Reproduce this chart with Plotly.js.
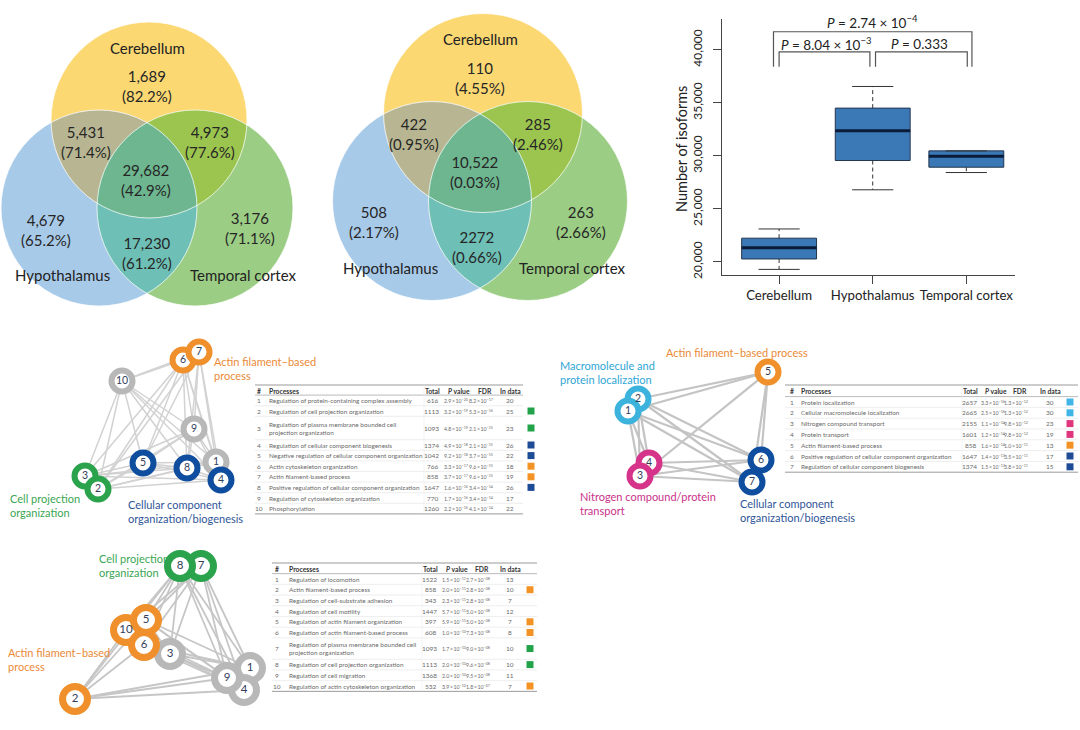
<!DOCTYPE html>
<html><head><meta charset="utf-8">
<script src="https://cdn.plot.ly/plotly-3.0.1.min.js"></script>
<style>html,body{margin:0;padding:0;background:#fff}</style>
</head><body><div id="chart" style="width:1080px;height:730px"></div>
<script>
const FONT = 'Lato, "Open Sans", sans-serif';

// ---------------- DATA ----------------
// Venn diagrams (region order: C only, C∩H, C∩T, C∩H∩T, H only, T only, H∩T)
const vennSets = ['Cerebellum', 'Hypothalamus', 'Temporal cortex'];
const venn1Count = ['1,689', '5,431', '4,973', '29,682', '4,679', '3,176', '17,230'];
const venn1Pct = ['82.2%', '71.4%', '77.6%', '42.9%', '65.2%', '71.1%', '61.2%'];
const venn2Count = ['110', '422', '285', '10,522', '508', '263', '2272'];
const venn2Pct = ['4.55%', '0.95%', '2.46%', '0.03%', '2.17%', '2.66%', '0.66%'];

// Box plot (number of isoforms)
const tissues = ['Cerebellum', 'Hypothalamus', 'Temporal cortex'];
const boxLower = [19300, 26800, 28430];
const boxQ1 = [20280, 29560, 28930];
const boxMedian = [21350, 32360, 29970];
const boxQ3 = [22240, 34500, 30470];
const boxUpper = [23110, 36540, 30470];
const yTicks = [20000, 25000, 30000, 35000, 40000];
const comparisons = [[0, 2], [0, 1], [1, 2]];
const pLabels = ['<i>P</i> = 2.74 × 10<sup>−4</sup>', '<i>P</i> = 8.04 × 10<sup>−3</sup>', '<i>P</i> = 0.333'];

// Network 1 / table 1
const net1Ids = [1, 2, 3, 4, 5, 6, 7, 8, 9, 10];
const net1Group = ['gray', 'green', 'green', 'blue', 'blue', 'orange', 'orange', 'blue', 'gray', 'gray'];
const net1Edges = [[10,6],[10,7],[10,9],[10,5],[10,8],[10,3],[10,2],[10,1],[10,4],[6,7],[6,9],[6,5],[6,8],[6,3],[6,2],[6,1],[6,4],[7,9],[7,8],[7,1],[7,4],[7,5],[7,2],[9,5],[9,8],[9,1],[9,4],[9,3],[9,2],[5,8],[5,3],[5,2],[5,4],[5,1],[8,4],[8,1],[8,3],[8,2],[1,4],[3,2],[3,4],[2,4],[3,1],[2,1]];
const net1Labels = ['Actin filament–based<br>process', 'Cell projection<br>organization', 'Cellular component<br>organization/biogenesis'];
const t1Process = ['Regulation of protein-containing complex assembly', 'Regulation of cell projection organization',
  'Regulation of plasma membrane bounded cell<br>projection organization', 'Regulation of cellular component biogenesis',
  'Negative regulation of cellular component organization', 'Actin cytoskeleton organization', 'Actin filament-based process',
  'Positive regulation of cellular component organization', 'Regulation of cytoskeleton organization', 'Phosphorylation'];
const t1Total = [616, 1113, 1093, 1374, 1042, 766, 858, 1647, 770, 1260];
const t1P = [2.9e-20, 3.2e-19, 4.8e-19, 4.9e-18, 9.2e-18, 3.3e-17, 3.7e-17, 1.6e-16, 1.7e-16, 2.2e-16];
const t1FDR = [8.2e-17, 5.3e-16, 2.1e-15, 2.1e-15, 3.7e-15, 9.6e-15, 9.6e-15, 3.4e-14, 3.4e-14, 4.1e-14];
const t1InData = [20, 25, 23, 26, 22, 18, 19, 26, 17, 22];

// Network 2 / table 2
const net2Ids = [1, 2, 3, 4, 5, 6, 7];
const net2Group = ['lightblue', 'lightblue', 'magenta', 'magenta', 'orange', 'blue', 'blue'];
const net2Edges = [[1,2],[1,3],[1,4],[2,3],[2,4],[3,4],[1,5],[2,5],[3,5],[5,6],[5,7],[1,6],[1,7],[2,6],[2,7],[3,6],[3,7],[4,6],[4,7],[6,7]];
const net2Labels = ['Actin filament–based process', 'Macromolecule and<br>protein localization', 'Nitrogen compound/protein<br>transport', 'Cellular component<br>organization/biogenesis'];
const t2Process = ['Protein localization', 'Cellular macromolecule localization', 'Nitrogen compound transport', 'Protein transport',
  'Actin filament-based process', 'Positive regulation of cellular component organization', 'Regulation of cellular component biogenesis'];
const t2Total = [2657, 2665, 2155, 1601, 858, 1647, 1374];
const t2P = [3.3e-16, 2.5e-16, 1.1e-14, 1.2e-14, 1.6e-14, 1.4e-13, 1.5e-13];
const t2FDR = [1.3e-12, 1.3e-12, 9.8e-12, 9.8e-12, 1.0e-11, 3.5e-11, 3.8e-11];
const t2InData = [30, 30, 23, 19, 13, 17, 15];

// Network 3 / table 3
const net3Ids = [1, 2, 3, 4, 5, 6, 7, 8, 9, 10];
const net3Group = ['gray', 'orange', 'gray', 'gray', 'orange', 'orange', 'green', 'green', 'gray', 'orange'];
const net3Edges = [[8,7],[8,5],[8,10],[8,6],[8,3],[8,1],[8,9],[8,4],[8,2],[7,5],[7,6],[7,3],[7,1],[7,9],[7,4],[7,10],[5,10],[5,6],[10,6],[5,3],[5,1],[5,9],[5,4],[6,3],[6,9],[6,1],[6,4],[10,2],[6,2],[5,2],[3,1],[3,9],[3,4],[2,9],[2,4],[2,1],[1,9],[1,4],[9,4],[10,9]];
const net3Labels = ['Cell projection<br>organization', 'Actin filament–based<br>process'];
const t3Process = ['Regulation of locomotion', 'Actin filament-based process', 'Regulation of cell-substrate adhesion', 'Regulation of cell motility',
  'Regulation of actin filament organization', 'Regulation of actin filament-based process',
  'Regulation of plasma membrane bounded cell<br>projection organization', 'Regulation of cell projection organization',
  'Regulation of cell migration', 'Regulation of actin cytoskeleton organization'];
const t3Total = [1522, 858, 343, 1447, 397, 608, 1093, 1113, 1368, 532];
const t3P = [1.5e-11, 2.0e-11, 2.3e-11, 5.7e-11, 5.9e-11, 1.0e-10, 1.7e-10, 2.0e-10, 2.0e-10, 3.9e-10];
const t3FDR = [2.7e-8, 2.8e-8, 2.8e-8, 5.0e-8, 5.0e-8, 7.3e-8, 9.0e-8, 9.6e-8, 9.5e-8, 1.8e-7];
const t3InData = [13, 10, 7, 12, 7, 8, 10, 10, 11, 7];

// ---------------- STYLE / GEOMETRY ----------------
const RING = {orange: '#f0902c', green: '#2ba24c', blue: '#0f4d9e', gray: '#b8b8b8', lightblue: '#3cb3dc', magenta: '#d6338a'};
const SQUARE = {orange: '#f39325', green: '#22a34a', blue: '#1e4b96', lightblue: '#41b6e6', magenta: '#e0367e'};
const LABELC = {orange: '#ea8a38', green: '#3ba653', blue: '#2f5597', lightblue: '#2ea6d6', magenta: '#c9318b'};
const VENN_SINGLE = ['#fcd873', '#a8cae9', '#9bcd85'];          // C, H, T
const VENN_PAIR = {'0-1': '#b8b692', '0-2': '#9cc54f', '1-2': '#6ec0b6'};
const VENN_TRIPLE = '#6db690';

const data = [], shapes = [], annotations = [];
function ann(x, y, text, size, color, extra) {
  annotations.push(Object.assign({x: x, y: y, xref: 'x', yref: 'y', text: text, showarrow: false,
    font: {family: FONT, size: size, color: color}}, extra || {}));
}

// ---- Venn
function diskIntersectionPath(centers, r, idxs) {
  const pts = [];
  idxs.forEach(function (i) {
    for (let k = 0; k < 720; k++) {
      const a = k * Math.PI / 360;
      const px = centers[i][0] + r * Math.cos(a), py = centers[i][1] + r * Math.sin(a);
      const ok = idxs.every(function (j) {
        return j === i || Math.hypot(px - centers[j][0], py - centers[j][1]) <= r + 1e-6;
      });
      if (ok) pts.push([px, py]);
    }
  });
  const mx = pts.reduce(function (s, p) { return s + p[0]; }, 0) / pts.length;
  const my = pts.reduce(function (s, p) { return s + p[1]; }, 0) / pts.length;
  pts.sort(function (p, q) { return Math.atan2(p[1] - my, p[0] - mx) - Math.atan2(q[1] - my, q[0] - mx); });
  return 'M' + pts.map(function (p) { return p[0].toFixed(2) + ',' + p[1].toFixed(2); }).join(' L') + ' Z';
}
function drawVenn(g, counts, pcts) {
  const c = g.centers, r = g.r;
  [0, 1, 2].forEach(function (i) {
    shapes.push({type: 'circle', xref: 'x', yref: 'y', x0: c[i][0] - r, x1: c[i][0] + r, y0: c[i][1] - r, y1: c[i][1] + r,
      fillcolor: VENN_SINGLE[i], line: {width: 0}, layer: 'below'});
  });
  [[0, 1], [0, 2], [1, 2]].forEach(function (pr) {
    shapes.push({type: 'path', xref: 'x', yref: 'y', path: diskIntersectionPath(c, r, pr), fillcolor: VENN_PAIR[pr.join('-')],
      line: {width: 0}, layer: 'below'});
  });
  shapes.push({type: 'path', xref: 'x', yref: 'y', path: diskIntersectionPath(c, r, [0, 1, 2]), fillcolor: VENN_TRIPLE,
    line: {width: 0}, layer: 'below'});
  [0, 1, 2].forEach(function (i) {
    shapes.push({type: 'circle', xref: 'x', yref: 'y', x0: c[i][0] - r, x1: c[i][0] + r, y0: c[i][1] - r, y1: c[i][1] + r,
      fillcolor: 'rgba(0,0,0,0)', line: {color: 'rgba(255,255,255,0.75)', width: 1}, layer: 'below'});
  });
  vennSets.forEach(function (s, i) { ann(g.setPos[i][0], g.setPos[i][1], s, 15, '#222'); });
  counts.forEach(function (v, i) { ann(g.regionPos[i][0], g.regionPos[i][1], v + '<br>(' + pcts[i] + ')', 15, '#262626'); });
}
drawVenn({centers: [[149, 120], [99, 208], [195, 208]], r: 98,
  setPos: [[147, 48], [62, 275], [243, 275]],
  regionPos: [[147, 86], [86, 142], [210, 142], [146, 180], [46, 230], [250, 228], [147, 253]]}, venn1Count, venn1Pct);
drawVenn({centers: [[483, 113], [432, 201], [528, 201]], r: 99.5,
  setPos: [[480, 39], [390, 268], [572, 268]],
  regionPos: [[480, 77.5], [414, 133.5], [538, 133.5], [475, 172], [374, 221.5], [581, 221.5], [477, 247]]}, venn2Count, venn2Pct);

// ---- Networks
function drawNetwork(ids, groups, edges, pos, st) {
  const ex = [], ey = [];
  edges.forEach(function (e) {
    const a = ids.indexOf(e[0]), b = ids.indexOf(e[1]);
    ex.push(pos.x[a], pos.x[b], null); ey.push(pos.y[a], pos.y[b], null);
  });
  data.push({type: 'scatter', mode: 'lines', x: ex, y: ey, xaxis: 'x', yaxis: 'y', hoverinfo: 'skip',
    line: {color: st.edgeColor, width: st.edgeWidth}});
  const order = st.order || ids.map(function (d, i) { return i; });
  data.push({type: 'scatter', mode: 'markers+text', xaxis: 'x', yaxis: 'y', hoverinfo: 'skip',
    x: order.map(function (i) { return pos.x[i]; }), y: order.map(function (i) { return pos.y[i]; }),
    text: order.map(function (i) { return String(ids[i]); }), textposition: 'middle center',
    textfont: {family: FONT, size: st.fontSize, color: '#33405a'},
    marker: {size: st.size, color: 'white', line: {width: st.ring, color: order.map(function (i) { return RING[groups[i]]; })}}});
}
drawNetwork(net1Ids, net1Group, net1Edges,
  {x: [216, 98, 85, 221, 143, 183, 199, 187, 194, 122], y: [462, 489, 476, 480, 463, 360, 352, 468, 429, 381]},
  {edgeColor: '#d2d2d2', edgeWidth: 1.5, size: 21, ring: 6, fontSize: 10.5, order: [9, 8, 0, 3, 4, 7, 2, 1, 5, 6]});
drawNetwork(net2Ids, net2Group, net2Edges,
  {x: [628, 638, 640, 649, 768, 761, 752], y: [411, 399, 476, 463, 372, 460, 482]},
  {edgeColor: '#c4c4c4', edgeWidth: 2.2, size: 21, ring: 6, fontSize: 10.5, order: [1, 0, 3, 2, 4, 5, 6]});
drawNetwork(net3Ids, net3Group, net3Edges,
  {x: [250, 75, 170, 244, 146, 144, 201, 180, 227, 126], y: [668, 699, 654, 690, 620, 645, 566, 566, 678, 630]},
  {edgeColor: '#c6c6c6', edgeWidth: 1.8, size: 25, ring: 7, fontSize: 11.5, order: [2, 0, 3, 8, 1, 9, 5, 4, 6, 7]});

// network labels
const L = {xanchor: 'left', align: 'left'};
ann(212, 368, net1Labels[0], 11, LABELC.orange, L);
ann(8, 505, net1Labels[1], 11, LABELC.green, L);
ann(126, 511, net1Labels[2], 11, LABELC.blue, L);
ann(737, 352, net2Labels[0], 11, LABELC.orange);
ann(558, 372, net2Labels[1], 11, LABELC.lightblue, L);
ann(578, 503, net2Labels[2], 11, LABELC.magenta, L);
ann(738, 510, net2Labels[3], 11, LABELC.blue, L);
ann(97, 565.5, net3Labels[0], 11, LABELC.green, L);
ann(6, 659, net3Labels[1], 11, LABELC.orange, L);

// ---- Tables
const THIN = '\u2009';
function sci(v) {
  const parts = v.toExponential(1).split('e');
  const ex = parseInt(parts[1], 10);
  const mag = String(Math.abs(ex)).padStart(2, '0');
  return parts[0] + THIN + '×' + THIN + '10<sup>' + (ex < 0 ? '−' : '') + mag + '</sup>';
}
function drawTable(g, proc, total, p, fdr, inData, groups) {
  const tc = '#6a6a6a', hc = '#333';
  const hf = {family: FONT, size: 6.8, color: hc};
  function hann(x, t, anchor) { annotations.push({x: x, y: g.headerY, xref: 'x', yref: 'y', text: t, showarrow: false, xanchor: anchor || 'center', font: hf}); }
  hann(g.numX, '<b>#</b>'); hann(g.textX, '<b>Processes</b>', 'left'); hann(g.totalX + 1, '<b>Total</b>', 'right');
  hann(g.pX + 3, '<b><i>P</i> value</b>'); hann(g.fdrX + 4, '<b>FDR</b>'); hann(g.inX, '<b>In data</b>');
  shapes.push({type: 'line', xref: 'x', yref: 'y', x0: g.left, x1: g.right, y0: g.headerY - 6, y1: g.headerY - 6, line: {color: '#9a9a9a', width: 1}});
  shapes.push({type: 'line', xref: 'x', yref: 'y', x0: g.left, x1: g.right, y0: g.top, y1: g.top, line: {color: '#a8a8a8', width: 0.8}});
  let top = g.top;
  const sqx = [], sqy = [], sqc = [];
  proc.forEach(function (name, i) {
    const h = name.indexOf('<br>') >= 0 ? g.doubleH : g.rowH;
    const cy = top + h / 2;
    const f = {family: FONT, size: 6.5, color: tc};
    const fp = {family: FONT, size: 6.4, color: tc};
    const fsci = {family: FONT, size: 5.2, color: tc};
    annotations.push({x: g.numX, y: cy, xref: 'x', yref: 'y', text: String(i + 1), showarrow: false, font: f});
    annotations.push({x: g.textX, y: cy, xref: 'x', yref: 'y', text: name, showarrow: false, xanchor: 'left', align: 'left', font: fp});
    annotations.push({x: g.totalX, y: cy, xref: 'x', yref: 'y', text: String(total[i]), showarrow: false, xanchor: 'right', font: f});
    annotations.push({x: g.pX, y: cy, xref: 'x', yref: 'y', text: sci(p[i]), showarrow: false, font: fsci});
    annotations.push({x: g.fdrX, y: cy, xref: 'x', yref: 'y', text: sci(fdr[i]), showarrow: false, font: fsci});
    annotations.push({x: g.inX, y: cy, xref: 'x', yref: 'y', text: String(inData[i]), showarrow: false, font: f});
    top += h;
    shapes.push({type: 'line', xref: 'x', yref: 'y', x0: g.left, x1: g.right, y0: top, y1: top,
      line: {color: i === proc.length - 1 ? '#9a9a9a' : '#e6e6e6', width: i === proc.length - 1 ? 1 : 0.7}});
    if (groups[i] !== 'gray') { sqx.push(g.sqX); sqy.push(cy); sqc.push(SQUARE[groups[i]]); }
  });
  shapes.push({type: 'line', xref: 'x', yref: 'y', x0: g.totalX - 17, x1: g.totalX - 17, y0: g.headerY - 6, y1: top, line: {color: '#eeeeee', width: 0.7}});
  data.push({type: 'scatter', mode: 'markers', x: sqx, y: sqy, xaxis: 'x', yaxis: 'y', hoverinfo: 'skip',
    marker: {symbol: 'square', size: 7, color: sqc}});
}
drawTable({left: 255, right: 523, numX: 259, textX: 267, totalX: 441, pX: 456, fdrX: 481, inX: 510, sqX: 531,
  headerY: 391, top: 395.1, rowH: 10.6, doubleH: 23.4}, t1Process, t1Total, t1P, t1FDR, t1InData, net1Group);
drawTable({left: 785, right: 1078, numX: 792, textX: 799, totalX: 979, pX: 993, fdrX: 1016, inX: 1050, sqX: 1070,
  headerY: 391, top: 396.6, rowH: 10.8, doubleH: 21.6}, t2Process, t2Total, t2P, t2FDR, t2InData, net2Group);
drawTable({left: 272, right: 537, numX: 277, textX: 287, totalX: 439, pX: 454, fdrX: 478, inX: 510, sqX: 530,
  headerY: 569, top: 573.65, rowH: 10.7, doubleH: 21.4}, t3Process, t3Total, t3P, t3FDR, t3InData, net3Group);

// ---- Box plot
const xs = tissues.map(function (t, i) { return i; });
data.push({type: 'box', xaxis: 'x2', yaxis: 'y2', x: xs, q1: boxQ1, median: boxMedian, q3: boxQ3,
  lowerfence: boxQ1, upperfence: boxQ3, width: 0.8, whiskerwidth: 0, boxpoints: false, hoverinfo: 'skip',
  fillcolor: '#3b78b6', line: {color: '#24364f', width: 1}});
const wx = [], wy = [], cx = [], cy = [], mx = [], my = [];
xs.forEach(function (x, i) {
  wx.push(x, x, null, x, x, null); wy.push(boxQ3[i], boxUpper[i], null, boxQ1[i], boxLower[i], null);
  cx.push(x - 0.22, x + 0.22, null, x - 0.22, x + 0.22, null); cy.push(boxUpper[i], boxUpper[i], null, boxLower[i], boxLower[i], null);
  mx.push(x - 0.4, x + 0.4, null); my.push(boxMedian[i], boxMedian[i], null);
});
data.push({type: 'scatter', mode: 'lines', xaxis: 'x2', yaxis: 'y2', x: wx, y: wy, hoverinfo: 'skip', line: {color: '#333', width: 1, dash: '4px,3px'}});
data.push({type: 'scatter', mode: 'lines', xaxis: 'x2', yaxis: 'y2', x: cx, y: cy, hoverinfo: 'skip', line: {color: '#333', width: 1}});
data.push({type: 'scatter', mode: 'lines', xaxis: 'x2', yaxis: 'y2', x: mx, y: my, hoverinfo: 'skip', line: {color: '#0a1c38', width: 3}});

// significance brackets
const brTop = [41700, 39800, 39800], brLeg = 38400, brX0 = [-0.06, 0.0, 1.03], brX1 = [2.06, 0.97, 2.01], brTextY = [42620, 40540];
comparisons.forEach(function (c, i) {
  const x0 = brX0[i], x1 = brX1[i];
  shapes.push({type: 'path', xref: 'x2', yref: 'y2', path: 'M' + x0 + ',' + brLeg + ' L' + x0 + ',' + brTop[i] + ' L' + x1 + ',' + brTop[i] + ' L' + x1 + ',' + brLeg,
    line: {color: '#555', width: 1.2}});
  annotations.push({x: (c[0] + c[1]) / 2, y: i === 0 ? brTextY[0] : brTextY[1], xref: 'x2', yref: 'y2', text: pLabels[i], showarrow: false,
    font: {family: FONT, size: 13.5, color: '#222'}});
});
annotations.push({x: 681, y: 149, xref: 'x', yref: 'y', text: 'Number of isoforms', textangle: -90, showarrow: false,
  font: {family: FONT, size: 14.5, color: '#222'}});

const layout = {
  width: 1080, height: 730, margin: {l: 0, r: 0, t: 0, b: 0}, paper_bgcolor: 'white', plot_bgcolor: 'rgba(0,0,0,0)',
  showlegend: false, font: {family: FONT},
  xaxis: {range: [0, 1080], domain: [0, 1], visible: false, fixedrange: true},
  yaxis: {range: [730, 0], domain: [0, 1], visible: false, fixedrange: true},
  xaxis2: {domain: [722 / 1080, 1015 / 1080], anchor: 'y2', range: [-0.61, 2.52], tickvals: xs, ticktext: tissues,
    tickangle: 0, showline: true, linecolor: '#444', linewidth: 1, ticks: 'outside', ticklen: 8, tickcolor: '#444', showgrid: false, zeroline: false,
    tickfont: {family: FONT, size: 13.2, color: '#222'}, fixedrange: true},
  yaxis2: {domain: [1 - 275 / 730, 1 - 19 / 730], anchor: 'x2', range: [18770, 42900], tickvals: yTicks, tickformat: ',',
    tickangle: -90, showline: true, linecolor: '#444', linewidth: 1, ticks: 'outside', ticklen: 8, tickcolor: '#444',
    showgrid: false, zeroline: false, tickfont: {family: FONT, size: 12, color: '#222'}, ticklabelstandoff: 6, fixedrange: true},
  shapes: shapes, annotations: annotations
};
Plotly.newPlot('chart', data, layout, {staticPlot: true, displayModeBar: false});
</script></body></html>
